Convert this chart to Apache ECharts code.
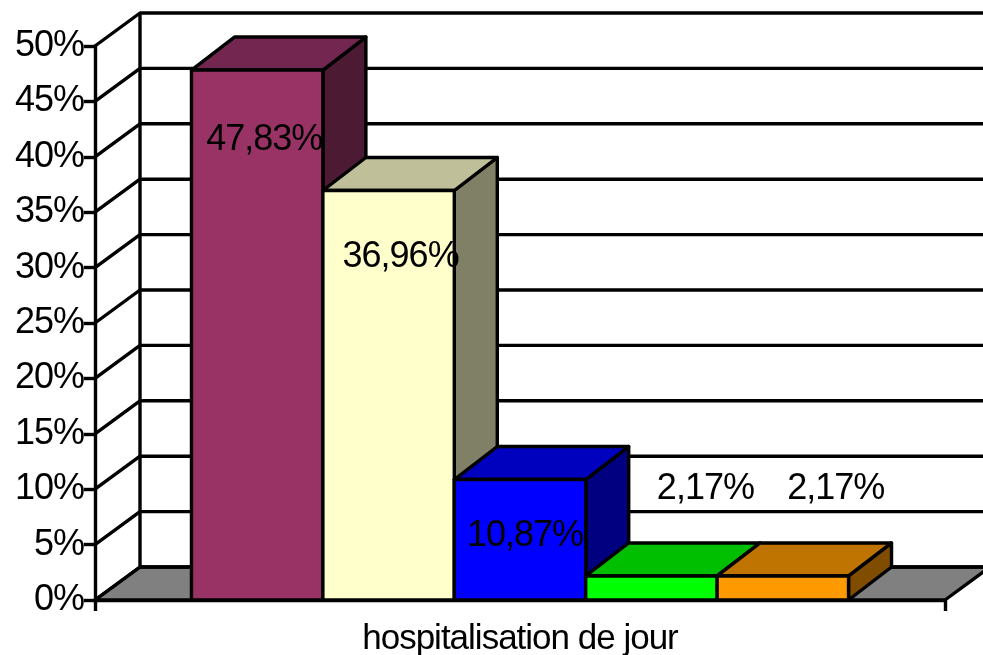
<!DOCTYPE html>
<html>
<head>
<meta charset="utf-8">
<style>html,body{margin:0;padding:0;background:#fff}#c{width:983px;height:655px}</style>
<script src="https://cdn.jsdelivr.net/npm/echarts@6/dist/echarts.min.js"></script>
</head>
<body>
<div id="c"></div>
<script>
const categories = ["hospitalisation de jour"];
const values = [47.83, 36.96, 10.87, 2.17, 2.17];
const tickValues = [0, 5, 10, 15, 20, 25, 30, 35, 40, 45, 50];
const frontColors = ["#993366", "#FFFFCC", "#0000FF", "#00FF00", "#FF9900"];
const topColors = ["#732650", "#BFBF99", "#0000BF", "#00BF00", "#BF7300"];
const sideColors = ["#4D1A33", "#808066", "#000080", "#008000", "#804D00"];
const labelOffsets = [[7, 70], [12, 67], [5, 57], [54, -87], [53, -87]];

const WALL = [45, -33], BAR = [43, -33], FONT = 'Liberation Sans, Arial, sans-serif', LW = 3.4;
const barShare = 0.1546;

// Tight glyph spacing of the original chart's text.
const nativeFillText = CanvasRenderingContext2D.prototype.fillText;
CanvasRenderingContext2D.prototype.fillText = function (...args) {
  this.letterSpacing = '-1px';
  return nativeFillText.apply(this, args);
};

function poly(points, fill) {
  return { type: 'polygon', shape: { points }, style: { fill, stroke: '#000', lineWidth: LW, lineJoin: 'round' } };
}
function line(points, w) {
  return { type: 'polyline', shape: { points }, style: { fill: 'none', stroke: '#000', lineWidth: w || LW, lineJoin: 'round' } };
}
function barRect(api) {
  const i = api.value(2), v = api.value(1);
  const c = api.coord([0, v]), b = api.coord([0, 0]), bw = api.size([1, 0])[0] * barShare;
  const x0 = c[0] + (i - 2.5) * bw;
  return { i, x0, x1: x0 + bw, top: c[1], base: b[1] };
}

const chart = echarts.init(document.getElementById('c'), null, { renderer: 'canvas' });
chart.setOption({
  animation: false,
  backgroundColor: '#fff',
  grid: { left: 95, right: 38, top: 46, bottom: 55, containLabel: false, outerBoundsMode: 'none' },
  xAxis: {
    type: 'category', data: categories,
    axisLine: { lineStyle: { color: '#000', width: LW } },
    axisTick: { show: true, length: 11, lineStyle: { color: '#000', width: LW } },
    axisLabel: { color: '#000', fontFamily: FONT, fontSize: 35, margin: 22 }
  },
  yAxis: {
    type: 'value', min: 0, max: 50, interval: 5,
    axisLine: { show: true, lineStyle: { color: '#000', width: LW } },
    axisTick: { show: true, length: 11, lineStyle: { color: '#000', width: LW } },
    axisLabel: { color: '#000', fontFamily: FONT, fontSize: 36, margin: 11, formatter: '{value}%' },
    splitLine: { show: false }
  },
  series: [
    { // floor
      type: 'custom', coordinateSystem: 'cartesian2d', clip: false, z: 1, silent: true,
      data: [[0, 0]],
      renderItem(p, api) {
        const b = api.coord([0, 0]), w = api.size([1, 0])[0];
        const l = b[0] - w / 2, r = b[0] + w / 2, y = b[1];
        return poly([[l, y], [l + WALL[0], y + WALL[1]], [r + WALL[0], y + WALL[1]], [r, y]], '#808080');
      }
    },
    { // gridlines on side and back walls
      type: 'custom', coordinateSystem: 'cartesian2d', clip: false, z: 2, silent: true,
      data: tickValues.map(v => [0, v]),
      renderItem(p, api) {
        const c = api.coord([0, api.value(1)]), w = api.size([1, 0])[0];
        const l = c[0] - w / 2, r = c[0] + w / 2, y = c[1];
        const els = [line([[l, y], [l + WALL[0], y + WALL[1]], [r + WALL[0], y + WALL[1]]])];
        if (api.value(1) === 50) {
          const b = api.coord([0, 0]);
          els.push(line([[l + WALL[0], y + WALL[1]], [l + WALL[0], b[1] + WALL[1]]]));
        }
        return { type: 'group', children: els };
      }
    },
    { // 3-D bars
      type: 'custom', coordinateSystem: 'cartesian2d', clip: false, z: 3, silent: true,
      data: values.map((v, i) => [0, v, i]),
      renderItem(p, api) {
        const { i, x0, x1, top, base } = barRect(api);
        const dx = BAR[0], dy = BAR[1];
        return { type: 'group', children: [
          poly([[x1, top], [x1 + dx, top + dy], [x1 + dx, base + dy], [x1, base]], sideColors[i]),
          poly([[x0, top], [x0 + dx, top + dy], [x1 + dx, top + dy], [x1, top]], topColors[i]),
          poly([[x0, top], [x1, top], [x1, base], [x0, base]], frontColors[i])
        ] };
      }
    },
    { // data labels
      type: 'custom', coordinateSystem: 'cartesian2d', clip: false, z: 4, silent: true,
      data: values.map((v, i) => [0, v, i]),
      renderItem(p, api) {
        const { i, x0, x1, top } = barRect(api);
        return { type: 'text', style: {
          text: api.value(1).toFixed(2).replace('.', ',') + '%',
          x: (x0 + x1) / 2 + labelOffsets[i][0], y: top + labelOffsets[i][1],
          fill: '#000', font: '36px ' + FONT, align: 'center', verticalAlign: 'middle'
        } };
      }
    }
  ]
});
</script>
</body>
</html>
